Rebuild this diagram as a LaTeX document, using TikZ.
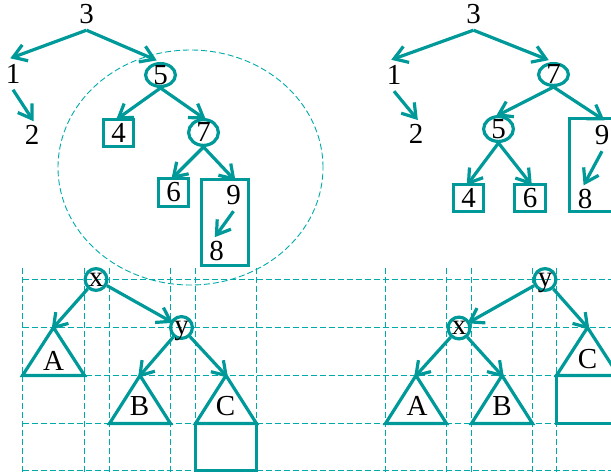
\documentclass[tikz,border=0pt]{standalone}
\usepackage{fontspec}
\setmainfont{Liberation Serif}
\usetikzlibrary{arrows.meta,shapes.geometric}
\definecolor{tealline}{RGB}{0,153,153}
\definecolor{tealgrid}{RGB}{0,170,170}

% open V-shaped arrow head with straight barbs
\pgfdeclarearrow{
  name = OpenVee,
  parameters = {\the\pgfarrowlength,\the\pgfarrowwidth},
  setup code = {
    \pgfarrowssettipend{0pt}
    \pgfarrowssetlineend{-1.5pt}
    \pgfarrowsupperhullpoint{-\pgfarrowlength}{.5\pgfarrowwidth}
    \pgfarrowsupperhullpoint{0pt}{0pt}
    \pgfarrowssavethe\pgfarrowlength
    \pgfarrowssavethe\pgfarrowwidth
  },
  drawing code = {
    \pgfsetdash{}{+0pt}
    \pgfpathmoveto{\pgfqpoint{-\pgfarrowlength}{.5\pgfarrowwidth}}
    \pgfpathlineto{\pgfqpoint{0pt}{0pt}}
    \pgfpathlineto{\pgfqpoint{-\pgfarrowlength}{-.5\pgfarrowwidth}}
    \pgfusepathqstroke
  },
  defaults = {length = 12pt, width = 16pt}
}

\begin{document}
\begin{tikzpicture}[x=1pt,y=-1pt,
  font=\fontsize{29}{29}\selectfont,
  lbl/.style={inner sep=0pt, minimum width=14pt, minimum height=32pt},
  ring/.style={ellipse, draw=tealline, line width=3.2pt, inner sep=0pt,
    minimum width=29.8pt, minimum height=22.8pt},
  smallring/.style={circle, draw=tealline, line width=3.2pt, inner sep=0pt,
    minimum size=21.8pt, text height=13pt, text depth=0pt},
  sq/.style={rectangle, draw=tealline, line width=3.2pt, inner sep=0pt,
    minimum width=29.8pt, minimum height=26.8pt},
  tri/.style={draw=tealline, line width=3.2pt},
  arr/.style={draw=tealline, line width=3.2pt,
    -{OpenVee[length=13pt,width=17pt]}},
  gridline/.style={draw=tealgrid, line width=1pt, dash pattern=on 6pt off 3pt},
  guide/.style={draw=tealgrid, line width=0.9pt, dash pattern=on 6pt off 3pt}
]
\useasboundingbox (0,0) rectangle (611,472);

% ---------- dashed grid for the rotation sketches ----------
\foreach \yy in {279.5,327.5,375.5,423.5,470.5}
  \draw[gridline] (22.5,\yy) -- (611,\yy);
\foreach \xx in {22.5,84.5,109.5,170.5,195.5,256.5,385.5,446.5,471.5,532.5,556.5}
  \draw[gridline] (\xx,267.5) -- (\xx,472);

% ---------- dashed outline of the rotated subtree ----------
\draw[guide] (190.5,167.5) ellipse [x radius=132.5pt, y radius=117.5pt];

% ---------- tree before rotation ----------
\node[lbl] (L3) at (86.5,14) {3};
\node[lbl] (L1) at (13,73.5) {1};
\node[lbl] (L2) at (32,135) {2};
\node[ring, label=center:5] (L5) at (160.5,75) {};
\node[sq] (L4) at (118.5,133) {4};
\node[ring, minimum height=25.8pt, label=center:7] (L7) at (203.5,132.5) {};
\node[sq, minimum height=27.8pt] (L6) at (173.5,192.5) {6};
\node[sq, minimum width=46.8pt, minimum height=85.8pt] (L98) at (225,222.5) {};
\node[lbl] (L9) at (233.5,195) {9};
\node[lbl] (L8) at (216.5,251) {8};

\draw[arr] (L3.south) -- (L1.north);
\draw[arr, shorten >=7pt] (L3.south) -- (L5.north);
\draw[arr] (L1.south) -- (L2.north);
\draw[arr] (L5.south) -- (L4.north);
\draw[arr] (L5.south) -- (L7.north);
\draw[arr] (L7.south) -- (L6.north);
\draw[arr] (L7.south) -- (L9.north);
\draw[arr] (L9.south) -- (L8.north);

% ---------- tree after rotation ----------
\node[lbl] (R3) at (473.5,14) {3};
\node[lbl] (R1) at (394,75) {1};
\node[lbl] (R2) at (416,134) {2};
\node[ring, minimum height=21.8pt, label=center:7] (R7) at (553.5,74.5) {};
\node[ring, minimum height=24.8pt, label=center:5] (R5) at (498.5,129) {};
\node[sq] (R4) at (468.5,198) {4};
\node[sq, minimum width=30.8pt] (R6) at (530,198) {6};
\node[sq, minimum width=60.4pt, minimum height=92.8pt] (R98) at (599.8,165) {};
\node[lbl] (R9) at (602,135) {9};
\node[lbl] (R8) at (585,199) {8};

\draw[arr] (R3.south) -- (R1.north);
\draw[arr, shorten >=8pt] (R3.south) -- (R7.north);
\draw[arr] (R1.south) -- (R2.north);
\draw[arr] (R7.south) -- (R5.north);
\draw[arr] (R7.south) -- (R9.north);
\draw[arr] (R5.south) -- (R4.north);
\draw[arr] (R5.south) -- (R6.north);
\draw[arr] (R9.south) -- (R8.north);

% ---------- left rotation sketch ----------
\coordinate (LAt) at (53.5,327.5);
\coordinate (LBt) at (140,375.5);
\coordinate (LCt) at (226,375.5);
\draw[tri] (22.5,375.5) -- (LAt) -- (84.5,375.5) -- cycle;
\draw[tri] (109.5,423.5) -- (LBt) -- (170.5,423.5) -- cycle;
\draw[tri] (195.5,423.5) -- (LCt) -- (256.5,423.5) -- cycle;
\draw[tri] (195.5,423.5) rectangle (256.5,470.5);
\node[lbl] (LA) at (53.5,361) {A};
\node[lbl] (LB) at (139.5,406) {B};
\node[lbl] (LC) at (225.5,406) {C};
\node[smallring] (Lx) at (96,279.5) {x};
\node[smallring] (Ly) at (181.5,327.5) {y};

\draw[arr] (Lx) -- (LAt);
\draw[arr] (Lx) -- (Ly);
\draw[arr] (Ly) -- (LBt);
\draw[arr] (Ly) -- (LCt);

% ---------- right rotation sketch ----------
\coordinate (RAt) at (416,375.5);
\coordinate (RBt) at (502,375.5);
\coordinate (RCt) at (587.5,327.5);
\draw[tri] (385.5,423.5) -- (RAt) -- (446.5,423.5) -- cycle;
\draw[tri] (471.5,423.5) -- (RBt) -- (532.5,423.5) -- cycle;
\draw[tri] (556.5,375.5) -- (RCt) -- (618.5,375.5) -- cycle;
\draw[tri] (556.5,375.5) rectangle (630,423.5);
\node[lbl] (RA) at (417,406) {A};
\node[lbl] (RB) at (502,406) {B};
\node[lbl] (RC) at (587.5,359) {C};
\node[smallring] (Ry) at (545,279.5) {y};
\node[smallring] (Rx) at (459,328) {x};

\draw[arr] (Ry) -- (Rx);
\draw[arr] (Ry) -- (RCt);
\draw[arr] (Rx) -- (RAt);
\draw[arr] (Rx) -- (RBt);
\end{tikzpicture}
\end{document}
